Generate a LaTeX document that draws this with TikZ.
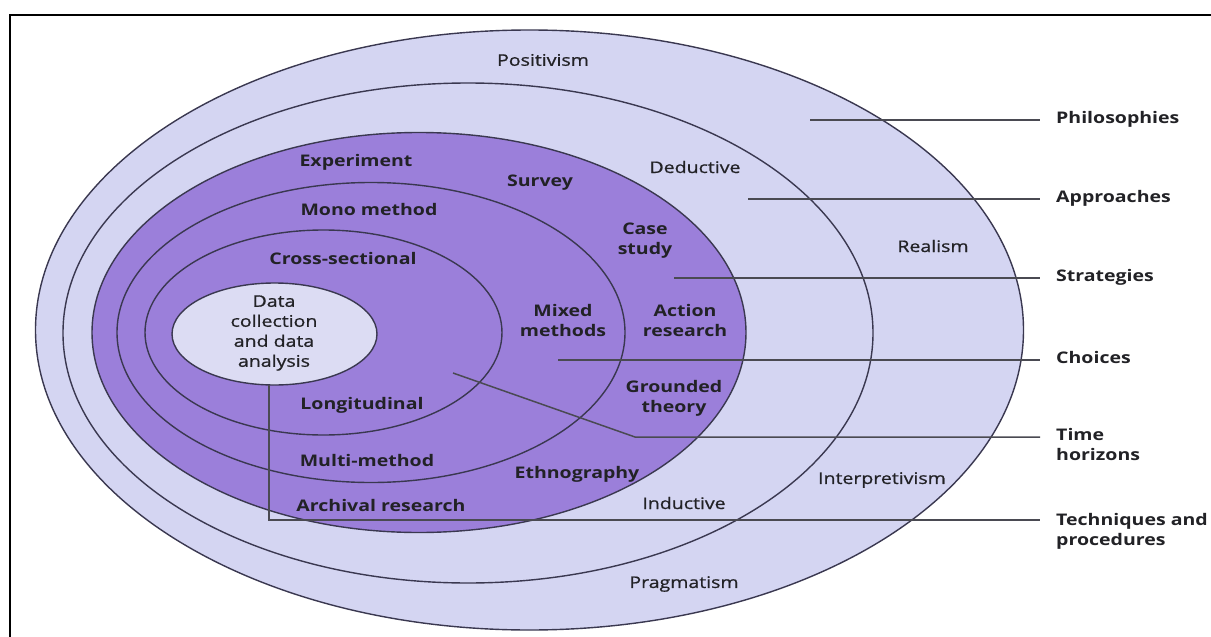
\documentclass[tikz,border=0pt]{standalone}
\usepackage{fontspec}
\setmainfont[FakeStretch=1.22]{Open Sans}
\newfontfamily\medfont[FakeStretch=1.22,FakeBold=0.8]{Open Sans}
\definecolor{lightring}{HTML}{D4D5F2}
\definecolor{innerlight}{HTML}{DCDCF3}
\definecolor{darkring}{HTML}{9B7FDA}
\definecolor{edge}{HTML}{3A3850}
\definecolor{leader}{HTML}{4A4A52}
\definecolor{txt}{HTML}{222226}
\tikzset{
  ring/.style={draw=edge, line width=1.4pt},
  leadline/.style={draw=leader, line width=1.5pt},
  lab/.style={text=txt, font=\fontsize{16}{20}\selectfont\medfont, align=center, inner sep=0pt},
  blab/.style={lab, font=\fontsize{16}{20}\selectfont\bfseries},
  sidelab/.style={blab, anchor=north west, align=left},
}
\begin{document}
\begin{tikzpicture}[x=1pt,y=-1pt]
\useasboundingbox (0,0) rectangle (1211,637);
\fill[white] (0,0) rectangle (1211,637);
% frame
\draw[line width=2pt, black] (10,640) -- (10,15) -- (1215,15);
% rings
\filldraw[ring, fill=lightring] (529.5,330) ellipse [x radius=494pt, y radius=300pt];
\filldraw[ring, fill=lightring] (468,333) ellipse [x radius=405pt, y radius=250pt];
\filldraw[ring, fill=darkring] (419,332.5) ellipse [x radius=327pt, y radius=200pt];
\draw[ring] (371,332.5) ellipse [x radius=254pt, y radius=150pt];
\draw[ring] (323.5,332.5) ellipse [x radius=178.5pt, y radius=102.5pt];
\filldraw[ring, fill=innerlight] (274.5,334) ellipse [x radius=102.5pt, y radius=51pt];
% ring labels
\node[lab] (positivism) at (543,60) {Positivism};
\node[lab] (deductive) at (695,167) {Deductive};
\node[lab] (realism) at (933,246) {Realism};
\node[lab] (interpretivism) at (882,480) {Interpretivism};
\node[lab] (inductive) at (684,503) {Inductive};
\node[lab] (pragmatism) at (684,584) {Pragmatism};
\node[blab] (experiment) at (356,162) {Experiment};
\node[blab] (survey) at (540,183) {Survey};
\node[blab] (mono) at (369,209) {Mono method};
\node[blab] (casestudy) at (645,241) {Case\\study};
\node[blab] (cross) at (343,258) {Cross-sectional};
\node[lab] (data) at (274,333) {Data\\collection\\and data\\analysis};
\node[blab] (mixed) at (563,320) {Mixed\\methods};
\node[blab] (action) at (685,320) {Action\\research};
\node[blab] (longit) at (362,405) {Longitudinal};
\node[blab] (grounded) at (674,398) {Grounded\\theory};
\node[blab] (multi) at (367,460) {Multi-method};
\node[blab] (ethno) at (577,474) {Ethnography};
\node[blab] (archival) at (381,505) {Archival research};
% side labels
\node[sidelab] (phil) at (1056,111) {Philosophies};
\node[sidelab] (appr) at (1056,190) {Approaches};
\node[sidelab] (strat) at (1056,269) {Strategies};
\node[sidelab] (choic) at (1056,351) {Choices};
\node[sidelab] (timeh) at (1056,428) {Time\\horizons};
\node[sidelab] (techn) at (1056,513) {Techniques and\\procedures};
% leader line ends
\coordinate (l1a) at (810,120);   \coordinate (l1b) at (1040,120);
\coordinate (l2a) at (748,199);   \coordinate (l2b) at (1040,199);
\coordinate (l3a) at (674,278);   \coordinate (l3b) at (1040,278);
\coordinate (l4a) at (558,360);   \coordinate (l4b) at (1040,360);
\coordinate (l5a) at (453,373);   \coordinate (l5k) at (635,437); \coordinate (l5b) at (1040,437);
\coordinate (l6a) at (269,385);   \coordinate (l6k) at (269,520); \coordinate (l6b) at (1040,520);
\draw[leadline] (l1a) -- (l1b);
\draw[leadline] (l2a) -- (l2b);
\draw[leadline] (l3a) -- (l3b);
\draw[leadline] (l4a) -- (l4b);
\draw[leadline] (l5a) -- (l5k) -- (l5b);
\draw[leadline] (l6a) -- (l6k) -- (l6b);
\end{tikzpicture}
\end{document}
